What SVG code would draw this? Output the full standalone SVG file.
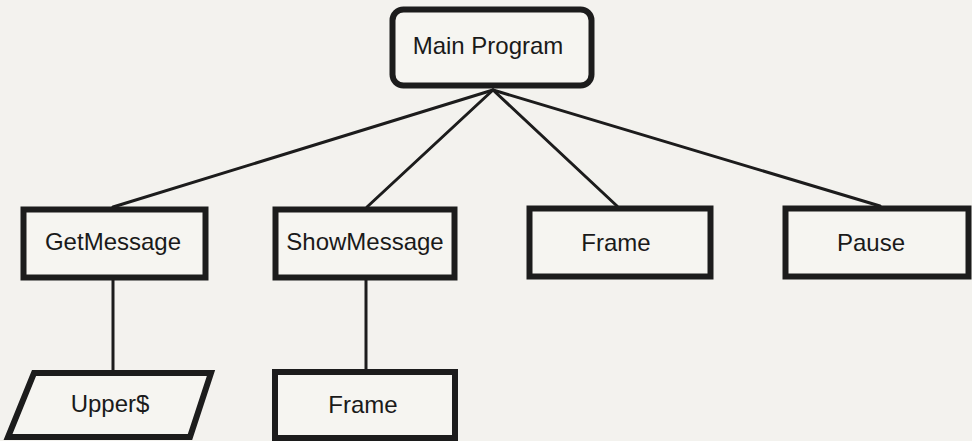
<svg xmlns="http://www.w3.org/2000/svg" width="972" height="441" viewBox="0 0 972 441">
<style>
.box{fill:#f6f5f1;stroke:#1c1c1c;stroke-width:6}
.lbl{font-family:"Liberation Sans",Arial,sans-serif;font-size:24px;fill:#1a1a1a;text-anchor:middle}
.con{stroke:#1c1c1c;stroke-width:3;fill:none;stroke-linecap:round}
</style>
<rect width="972" height="441" fill="#f3f2ee"/>
<g id="connectors">
<line class="con" x1="493" y1="90" x2="113" y2="207"/>
<line class="con" x1="493" y1="90" x2="367" y2="207"/>
<line class="con" x1="493" y1="90" x2="617" y2="206"/>
<line class="con" x1="493" y1="90" x2="880" y2="206"/>
<line class="con" x1="113" y1="280" x2="113" y2="371"/>
<line class="con" x1="366" y1="280" x2="366" y2="369"/>
</g>
<g id="main-program">
<rect class="box" x="392.5" y="9.5" width="199" height="76" rx="11"/>
<text class="lbl" x="488" y="54">Main Program</text>
</g>
<g id="getmessage">
<rect class="box" x="23.5" y="209.5" width="182" height="68"/>
<text class="lbl" x="113" y="250">GetMessage</text>
</g>
<g id="showmessage">
<rect class="box" x="275.5" y="209.5" width="179" height="68"/>
<text class="lbl" x="365" y="250">ShowMessage</text>
</g>
<g id="frame-top">
<rect class="box" x="529.5" y="208.5" width="181" height="68"/>
<text class="lbl" x="616" y="251">Frame</text>
</g>
<g id="pause">
<rect class="box" x="785.5" y="208.5" width="183" height="68"/>
<text class="lbl" x="871" y="251">Pause</text>
</g>
<g id="upper">
<polygon class="box" points="34,373 211,373 190,437 8,437"/>
<text class="lbl" x="110" y="412">Upper$</text>
</g>
<g id="frame-bottom">
<rect class="box" x="275" y="372" width="180" height="66"/>
<text class="lbl" x="363" y="413">Frame</text>
</g>
</svg>
